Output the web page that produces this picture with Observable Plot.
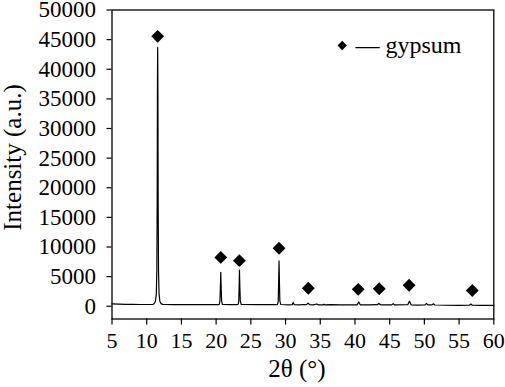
<!DOCTYPE html>
<html><head><meta charset="utf-8">
<script src="https://cdn.jsdelivr.net/npm/d3@7"></script>
<script src="https://cdn.jsdelivr.net/npm/@observablehq/plot@0.6"></script>
<style>body{margin:0;background:#fff}#chart{width:505px;height:387px}#chart svg, #chart svg text{font-family:"Liberation Serif","Times New Roman",Times,serif !important}</style>
</head><body><div id="chart"></div>
<script>
// XRD pattern (2θ in degrees, intensity in a.u.)
const twoTheta = [5, 6, 7, 8, 9, 10, 10.9, 11.1, 11.25, 11.38, 11.46, 11.51, 11.55, 11.58, 11.61, 11.65, 11.7, 11.78, 11.9, 12.05, 12.3,
  14, 16, 18, 20.3, 20.45, 20.55, 20.62, 20.67, 20.72, 20.79, 20.9, 22, 23.1, 23.18, 23.26, 23.32, 23.36, 23.41, 23.48, 23.6,
  26, 28.7, 28.85, 28.95, 29.01, 29.06, 29.11, 29.18, 29.3, 30.5, 30.95, 31.1, 31.25, 32, 32.5, 33.0, 33.25, 33.45, 34.0, 34.5, 34.7,
  35.4, 35.5, 35.6, 36.5, 38, 40.3, 40.55, 40.75, 42.0, 43.2, 43.45, 43.7, 45.3, 45.5, 45.7, 47.6, 47.85, 48.1, 49, 50.1, 50.3, 50.5,
  51.1, 51.3, 51.5, 53, 55, 56.5, 56.7, 56.9, 58, 60];
const intensity = [400, 360, 330, 310, 300, 300, 320, 450, 800, 2000, 6000, 18000, 38000, 43700, 38000, 18000, 6000, 2000, 800, 450, 320,
  290, 280, 280, 290, 330, 900, 3500, 5720, 3500, 900, 320, 280, 290, 330, 900, 3600, 6100, 3600, 900, 320,
  260, 260, 300, 900, 4500, 7680, 4500, 900, 300, 240, 260, 650, 260, 250, 300, 280, 520, 290, 240, 380, 240,
  240, 330, 240, 270, 220, 230, 720, 240, 220, 260, 470, 250, 230, 450, 220, 260, 850, 250, 200, 220, 480, 220,
  230, 420, 210, 170, 160, 180, 380, 170, 150, 140];
// diamond markers identifying gypsum peaks
const markerTheta = [11.58, 20.67, 23.35, 29.06, 33.28, 40.47, 43.5, 47.8, 56.9];
const markerIntensity = [45550, 8250, 7700, 9800, 3050, 2850, 2950, 3550, 2650];
const xTicks = [5, 10, 15, 20, 25, 30, 35, 40, 45, 50, 55, 60];
const yTicks = [0, 5000, 10000, 15000, 20000, 25000, 30000, 35000, 40000, 45000, 50000];
const xLabel = "2θ (°)";
const yLabel = "Intensity (a.u.)";
const legendLabel = "gypsum";

const pattern = twoTheta.map((t, i) => ({t, v: intensity[i]}));
const markers = markerTheta.map((t, i) => ({t, v: markerIntensity[i]}));
const font = '"Liberation Serif","Times New Roman",Times,serif';

const chart = Plot.plot({
  width: 505, height: 387,
  marginLeft: 111.5, marginRight: 11.7, marginTop: 9.5, marginBottom: 68.5,
  style: {fontFamily: font, background: "white", color: "black", overflow: "visible"},
  x: {domain: [5, 60]},
  y: {domain: [-2150, 50000]},
  marks: [
    Plot.axisX({ticks: xTicks, tickFormat: d => `${d}`, tickSize: 6, tickPadding: 7, fontSize: 22, fontFamily: font, label: null, stroke: "black", strokeWidth: 1.2}),
    Plot.axisY({ticks: yTicks, tickFormat: d => `${d}`, tickSize: 5, tickPadding: 11, fontSize: 23, fontFamily: font, label: null, stroke: "black", strokeWidth: 1.2}),
    Plot.line(pattern, {x: "t", y: "v", stroke: "black", strokeWidth: 1.2}),
    Plot.dot(markers, {x: "t", y: "v", symbol: "diamond2", r: 5.8, fill: "black", stroke: "none"}),
    Plot.frame({stroke: "black", strokeWidth: 1.3}),
    Plot.text([xLabel], {frameAnchor: "bottom", textAnchor: "middle", lineAnchor: "top", dx: -6, dy: 40, fontSize: 25, fontFamily: font, fill: "black"}),
    Plot.text([yLabel], {frameAnchor: "left", textAnchor: "middle", lineAnchor: "top", rotate: -90, dx: -108.5, dy: -7, fontSize: 25, fontFamily: font, fill: "black"}),
    Plot.dot([legendLabel], {frameAnchor: "top-left", dx: 230.2, dy: 35.5, symbol: "diamond2", r: 4.2, fill: "black", stroke: "none"}),
    Plot.text([`— ${legendLabel}`], {frameAnchor: "top-left", textAnchor: "start", lineAnchor: "middle", dx: 243.5, dy: 35.8, fontSize: 24, fontFamily: font, fill: "black"})
  ]
});
document.getElementById("chart").append(chart);
</script>
</body></html>
